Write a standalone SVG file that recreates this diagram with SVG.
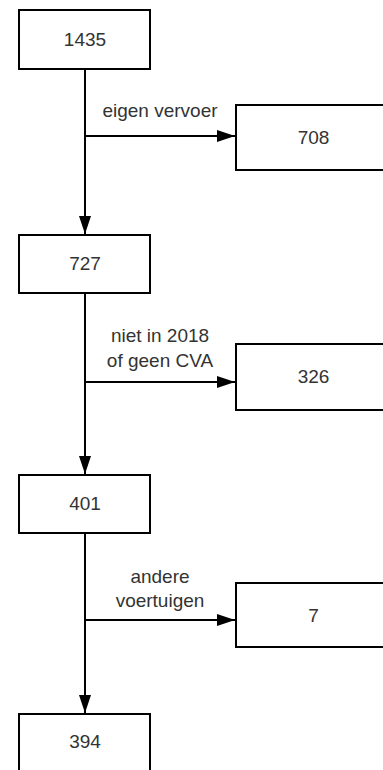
<svg xmlns="http://www.w3.org/2000/svg" width="383" height="770" viewBox="0 0 383 770">
  <style>
    .box { fill: #ffffff; stroke: #000000; stroke-width: 2; }
    .num { font-family: "Liberation Sans", Arial, sans-serif; font-size: 19px; fill: #333333; text-anchor: middle; }
    .lbl { font-family: "Liberation Sans", Arial, sans-serif; font-size: 19px; fill: #333333; text-anchor: middle; }
    .edge { fill: none; stroke: #000000; stroke-width: 2; }
  </style>
  <defs>
    <marker id="arrow" viewBox="0 0 18 12" refX="18" refY="6" markerWidth="18" markerHeight="12" markerUnits="userSpaceOnUse" orient="auto">
      <path d="M0,0 L18,6 L0,12 Z" fill="#000000"/>
    </marker>
  </defs>

  <rect width="383" height="770" fill="#ffffff"/>

  <!-- connectors -->
  <g id="connectors">
    <path class="edge" d="M85,69 V234" marker-end="url(#arrow)"/>
    <path class="edge" d="M85,136 H235" marker-end="url(#arrow)"/>
    <path class="edge" d="M85,293 V474" marker-end="url(#arrow)"/>
    <path class="edge" d="M85,382 H235" marker-end="url(#arrow)"/>
    <path class="edge" d="M85,533 V713" marker-end="url(#arrow)"/>
    <path class="edge" d="M85,620 H235" marker-end="url(#arrow)"/>
    <text class="lbl" x="160" y="117">eigen vervoer</text>
    <text class="lbl" x="160" y="342">niet in 2018</text>
    <text class="lbl" x="160" y="367">of geen CVA</text>
    <text class="lbl" x="160" y="583">andere</text>
    <text class="lbl" x="160" y="607">voertuigen</text>
  </g>

  <!-- nodes -->
  <g id="n1435">
    <rect class="box" x="19" y="10" width="131" height="59"/>
    <text class="num" x="85" y="46">1435</text>
  </g>
  <g id="n708">
    <rect class="box" x="236" y="105" width="155" height="65"/>
    <text class="num" x="313.5" y="144">708</text>
  </g>
  <g id="n727">
    <rect class="box" x="19" y="235" width="131" height="58"/>
    <text class="num" x="85" y="270">727</text>
  </g>
  <g id="n326">
    <rect class="box" x="236" y="344" width="155" height="66"/>
    <text class="num" x="313.5" y="383">326</text>
  </g>
  <g id="n401">
    <rect class="box" x="19" y="475" width="131" height="58"/>
    <text class="num" x="85" y="510">401</text>
  </g>
  <g id="n7">
    <rect class="box" x="236" y="583" width="155" height="64"/>
    <text class="num" x="313.5" y="622">7</text>
  </g>
  <g id="n394">
    <rect class="box" x="19" y="714" width="131" height="60"/>
    <text class="num" x="85" y="748">394</text>
  </g>
</svg>
